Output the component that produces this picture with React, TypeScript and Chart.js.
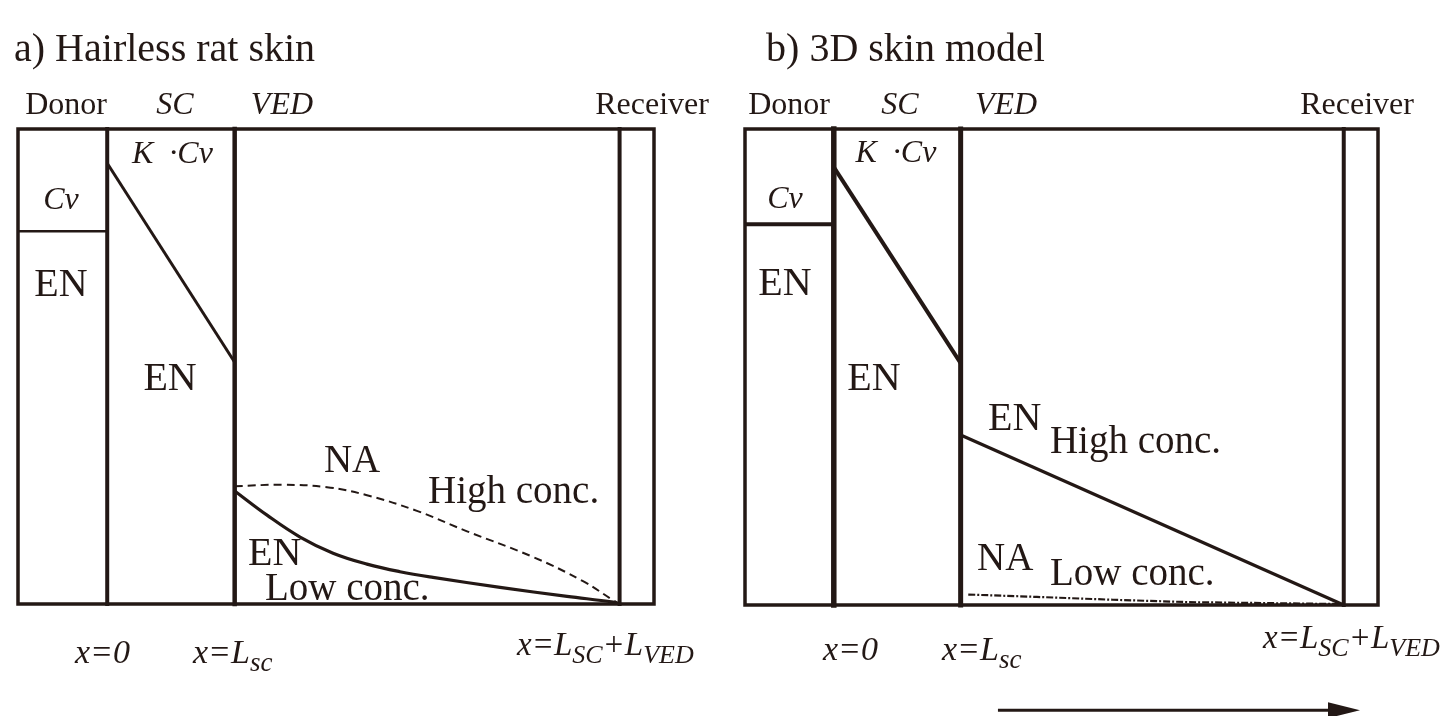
import React, { useEffect, useRef } from "react";
import { Chart, registerables } from "chart.js";

Chart.register(...registerables);

const INK = "#231815";
const SERIF = '"Liberation Serif", "Times New Roman", serif';

// Position axis: x = 0 at the donor/SC interface, x = L_SC (=1), x = L_SC + L_VED
const X_MIN = -0.7;
const X_MAX = 4.29;
const BOUNDARIES = [0, 1, 4.02];
// Concentration axis (normalised)
const Y_MIN = 0;
const Y_MAX = 1;

// ---- a) Hairless rat skin ----
const CV_LEVEL_A = 0.785;
const SC_X = [0, 1];
const SC_A_Y = [0.928, 0.509];
const EN_A_X = [1.0, 1.254, 1.513, 1.772, 2.038, 2.297, 2.556, 3.082, 3.608, 3.969, 4.02];
const EN_A_Y = [0.238, 0.187, 0.141, 0.107, 0.084, 0.068, 0.056, 0.035, 0.016, 0.004, 0.0];
const NA_A_X = [1.0, 1.379, 1.724, 2.038, 2.43, 2.823, 3.341, 3.733, 3.969, 4.02];
const NA_A_Y = [0.248, 0.251, 0.246, 0.229, 0.196, 0.153, 0.099, 0.048, 0.008, 0.0];

// ---- b) 3D skin model ----
const CV_LEVEL_B = 0.8;
const SC_B_Y = [0.92, 0.508];
const EN_B_X = [1, 4.02];
const EN_B_Y = [0.357, 0];
const NA_B_X = [1.06, 1.6, 2.2, 2.8, 3.99];
const NA_B_Y = [0.022, 0.017, 0.011, 0.006, 0.002];

type Run = { t: string; sub?: boolean };
type Label = {
  runs: Run[];
  x: number;
  y: number;
  size: number;
  italic?: boolean;
  align: "left" | "center";
};

const L = (t: string, x: number, y: number, size: number, align: "left" | "center", italic = false): Label => ({
  runs: [{ t }],
  x,
  y,
  size,
  italic,
  align,
});

const LABELS_A: Label[] = [
  L("a) Hairless rat skin", -0.731, 1.143, 40, "left"),
  L("Donor", -0.323, 1.032, 32, "center"),
  L("SC", 0.532, 1.032, 32, "center", true),
  L("VED", 1.371, 1.032, 32, "center", true),
  L("Receiver", 4.275, 1.032, 32, "center"),
  L("Cv", -0.363, 0.832, 32, "center", true),
  L("K  \u00B7Cv", 0.512, 0.928, 32, "center", true),
  L("EN", -0.363, 0.648, 40, "center"),
  L("EN", 0.493, 0.451, 40, "center"),
  L("NA", 1.921, 0.278, 39, "center"),
  L("High conc.", 2.517, 0.213, 39, "left"),
  L("EN", 1.105, 0.082, 40, "left"),
  L("Low conc.", 1.238, 0.008, 39, "left"),
  { runs: [{ t: "x=0" }], x: -0.253, y: -0.124, size: 34, italic: true, align: "left" },
  { runs: [{ t: "x=L" }, { t: "sc", sub: true }], x: 0.673, y: -0.124, size: 34, italic: true, align: "left" },
  {
    runs: [{ t: "x=L" }, { t: "SC", sub: true }, { t: "+L" }, { t: "VED", sub: true }],
    x: 3.215,
    y: -0.107,
    size: 33,
    italic: true,
    align: "left",
  },
];

const LABELS_B: Label[] = [
  L("b) 3D skin model", -0.534, 1.143, 40, "left"),
  L("Donor", -0.353, 1.032, 32, "center"),
  L("SC", 0.522, 1.032, 32, "center", true),
  L("VED", 1.358, 1.032, 32, "center", true),
  L("Receiver", 4.125, 1.032, 32, "center"),
  L("Cv", -0.385, 0.834, 32, "center", true),
  L("K  \u00B7Cv", 0.49, 0.931, 32, "center", true),
  L("EN", -0.385, 0.651, 40, "center"),
  L("EN", 0.317, 0.452, 40, "center"),
  L("EN", 1.216, 0.368, 40, "left"),
  L("High conc.", 1.704, 0.319, 39, "left"),
  L("NA", 1.129, 0.074, 39, "left"),
  L("Low conc.", 1.704, 0.042, 39, "left"),
  { runs: [{ t: "x=0" }], x: -0.085, y: -0.116, size: 34, italic: true, align: "left" },
  { runs: [{ t: "x=L" }, { t: "sc", sub: true }], x: 0.853, y: -0.116, size: 34, italic: true, align: "left" },
  {
    runs: [{ t: "x=L" }, { t: "SC", sub: true }, { t: "+L" }, { t: "VED", sub: true }],
    x: 3.384,
    y: -0.09,
    size: 33,
    italic: true,
    align: "left",
  },
];

// direction-of-permeation arrow (panel b)
const ARROW_B_X = [1.294, 4.148];
const ARROW_B_Y = -0.221;

function seg(xs: number[], ys: number[], width: number, extra: any = {}) {
  return {
    data: xs.map((x, i) => ({ x, y: ys[i] })),
    borderColor: INK,
    backgroundColor: INK,
    borderWidth: width,
    pointRadius: 0,
    fill: false,
    tension: 0,
    clip: false,
    borderCapStyle: "square",
    borderJoinStyle: "miter",
    ...extra,
  };
}

function boxDatasets(cv: number, wOuter: number, wBound: number[], wCv: number) {
  const ds: any[] = [];
  ds.push(seg([X_MIN, X_MIN, X_MAX, X_MAX, X_MIN], [Y_MIN, Y_MAX, Y_MAX, Y_MIN, Y_MIN], wOuter));
  BOUNDARIES.forEach((b, i) => ds.push(seg([b, b], [Y_MIN, Y_MAX], wBound[i])));
  ds.push(seg([X_MIN, 0], [cv, cv], wCv, { borderCapStyle: "butt" }));
  return ds;
}

function makeLabelPlugin(labels: Label[], arrow?: { xs: number[]; y: number }) {
  return {
    id: "labels",
    afterDatasetsDraw(chart: any) {
      const ctx = chart.ctx as CanvasRenderingContext2D;
      const xs = chart.scales.x;
      const ys = chart.scales.y;
      ctx.save();
      ctx.fillStyle = INK;
      ctx.textBaseline = "alphabetic";
      ctx.textAlign = "left";
      for (const lab of labels) {
        const px = xs.getPixelForValue(lab.x);
        const py = ys.getPixelForValue(lab.y);
        const style = lab.italic ? "italic " : "";
        const fontFor = (r: Run) => `${style}${r.sub ? Math.round(lab.size * 0.78) : lab.size}px ${SERIF}`;
        let total = 0;
        const widths = lab.runs.map((r) => {
          ctx.font = fontFor(r);
          const w = ctx.measureText(r.t).width;
          total += w;
          return w;
        });
        let cx = lab.align === "center" ? px - total / 2 : px;
        lab.runs.forEach((r, i) => {
          ctx.font = fontFor(r);
          ctx.fillText(r.t, cx, py + (r.sub ? lab.size * 0.24 : 0));
          cx += widths[i];
        });
      }
      if (arrow) {
        const x0 = xs.getPixelForValue(arrow.xs[0]);
        const x1 = xs.getPixelForValue(arrow.xs[1]);
        const y = ys.getPixelForValue(arrow.y);
        ctx.strokeStyle = INK;
        ctx.lineWidth = 3;
        ctx.beginPath();
        ctx.moveTo(x0, y);
        ctx.lineTo(x1 - 20, y);
        ctx.stroke();
        ctx.beginPath();
        ctx.moveTo(x1, y);
        ctx.lineTo(x1 - 32, y - 8);
        ctx.lineTo(x1 - 32, y + 8);
        ctx.closePath();
        ctx.fill();
      }
      ctx.restore();
    },
  };
}

function makeOptions(pad: { left: number; right: number; top: number; bottom: number }) {
  return {
    animation: false,
    responsive: false,
    maintainAspectRatio: false,
    devicePixelRatio: 1,
    events: [],
    layout: { padding: pad },
    plugins: { legend: { display: false }, tooltip: { enabled: false }, title: { display: false } },
    scales: {
      x: { type: "linear", min: X_MIN, max: X_MAX, display: false },
      y: { type: "linear", min: Y_MIN, max: Y_MAX, display: false },
    },
  } as any;
}

export default function App() {
  const refA = useRef<HTMLCanvasElement | null>(null);
  const refB = useRef<HTMLCanvasElement | null>(null);

  useEffect(() => {
    const dsA = [
      ...boxDatasets(CV_LEVEL_A, 3.5, [4, 4.5, 4], 2.5),
      seg(SC_X, SC_A_Y, 3, { borderCapStyle: "butt" }),
      seg(EN_A_X, EN_A_Y, 3.2, { tension: 0.4, borderCapStyle: "butt", borderJoinStyle: "round" }),
      seg(NA_A_X, NA_A_Y, 2, { tension: 0.4, borderDash: [8, 5], borderCapStyle: "butt", borderJoinStyle: "round" }),
    ];
    const dsB = [
      ...boxDatasets(CV_LEVEL_B, 3.5, [5.5, 5, 4], 4),
      seg(SC_X, SC_B_Y, 4, { borderCapStyle: "butt" }),
      seg(EN_B_X, EN_B_Y, 3.2, { borderCapStyle: "butt" }),
      seg(NA_B_X, NA_B_Y, 2.2, { borderDash: [7, 2, 2, 2], borderCapStyle: "butt" }),
    ];
    const chartA = new Chart(refA.current as HTMLCanvasElement, {
      type: "line",
      data: { datasets: dsA as any },
      options: makeOptions({ left: 18, right: 68, top: 129, bottom: 112 }),
      plugins: [makeLabelPlugin(LABELS_A)],
    });
    const chartB = new Chart(refB.current as HTMLCanvasElement, {
      type: "line",
      data: { datasets: dsB as any },
      options: makeOptions({ left: 23, right: 65, top: 129, bottom: 111 }),
      plugins: [makeLabelPlugin(LABELS_B, { xs: ARROW_B_X, y: ARROW_B_Y })],
    });
    return () => {
      chartA.destroy();
      chartB.destroy();
    };
  }, []);

  return (
    <div style={{ position: "fixed", left: 0, top: 0, width: 1443, height: 716, background: "#ffffff" }}>
      <canvas ref={refA} width={722} height={716} style={{ position: "absolute", left: 0, top: 0 }} />
      <canvas ref={refB} width={721} height={716} style={{ position: "absolute", left: 722, top: 0 }} />
    </div>
  );
}
